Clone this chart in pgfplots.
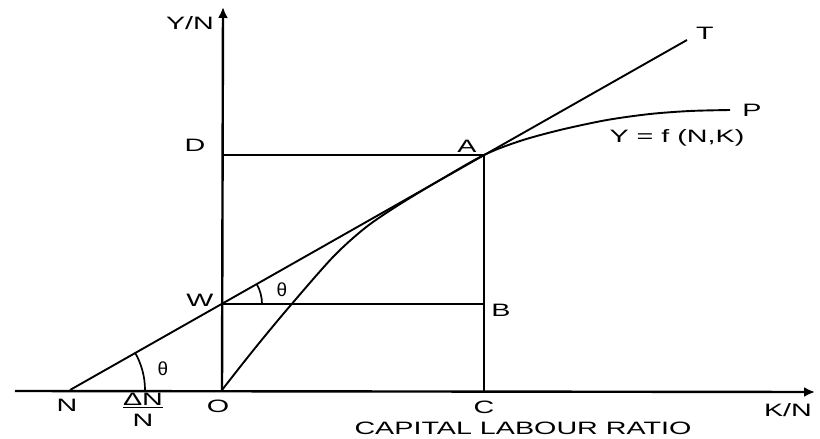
\documentclass[border=0pt]{standalone}
\usepackage{fontspec}
\setmainfont{Liberation Sans}[FakeStretch=1.6]
\newfontfamily\thetafont{Liberation Sans}
\usepackage{pgfplots}
\pgfplotsset{compat=1.18}
\usetikzlibrary{arrows.meta}
\begin{document}
\fontsize{18}{20}\selectfont
\begin{tikzpicture}[lbl/.style={font=\fontsize{18}{20}\selectfont, inner sep=0pt}]
\begin{axis}[
  width=820bp, height=438bp, scale only axis,
  xmin=0, xmax=820, ymin=0, ymax=438,
  hide axis, clip=false,
]
% frame for bounding box
\addplot[draw=none] coordinates {(0,0) (820,438)};
% axes
\addplot[line width=2.4bp, -{Latex[length=11bp,width=10bp]}] coordinates {(15,47) (815,46)};
\addplot[line width=2.4bp, -{Latex[length=11bp,width=10bp]}] coordinates {(222,47) (223,431)};
% rectangle lines
\addplot[line width=1.9bp] coordinates {(222,283) (484,283)};
\addplot[line width=2.1bp] coordinates {(484,283) (484,47)};
\addplot[line width=1.9bp] coordinates {(222,134) (484,134)};
% line N-T
\addplot[line width=1.9bp] coordinates {(70,48) (687,398)};
% production curve O-P
\addplot[line width=1.9bp, smooth, tension=0.5] coordinates {
 (222,48) (240,71) (260,96) (290,132) (333,181) (365,210) (397,232)
 (440,258) (484,283) (520,297) (560,308) (607,318) (650,324) (690,327) (730,328)};
% angle arcs
\draw[line width=1.7bp] (axis cs:262,134) arc[start angle=0, end angle=29.6, radius=40bp];
\draw[line width=1.7bp] (axis cs:145,48) arc[start angle=0, end angle=29.6, radius=75bp];
% labels
\node[lbl] at (axis cs:190,415) {Y/N};
\node[lbl] at (axis cs:195,293) {D};
\node[lbl] at (axis cs:467,292) {A};
\node[lbl] at (axis cs:705,405) {T};
\node[lbl] at (axis cs:752,328) {P};
\node[lbl] at (axis cs:677,300) {Y = f (N,K)};
\node[lbl] at (axis cs:200,138) {W};
\node[lbl] at (axis cs:501,128) {B};
\node[lbl] at (axis cs:282,148) {\thetafont\fontsize{19}{20}\selectfont θ};
\node[lbl] at (axis cs:163,69) {\thetafont\fontsize{19}{20}\selectfont θ};
\node[lbl] at (axis cs:67,33) {N};
\node[lbl, align=center] at (axis cs:143,28) {\underline{ΔN}\\[1bp]N};
\node[lbl] at (axis cs:218,32) {O};
\node[lbl] at (axis cs:484,31) {C};
\node[lbl] at (axis cs:788,28) {K/N};
\node[lbl] at (axis cs:523,10) {CAPITAL LABOUR RATIO};
\end{axis}
\end{tikzpicture}
\end{document}
